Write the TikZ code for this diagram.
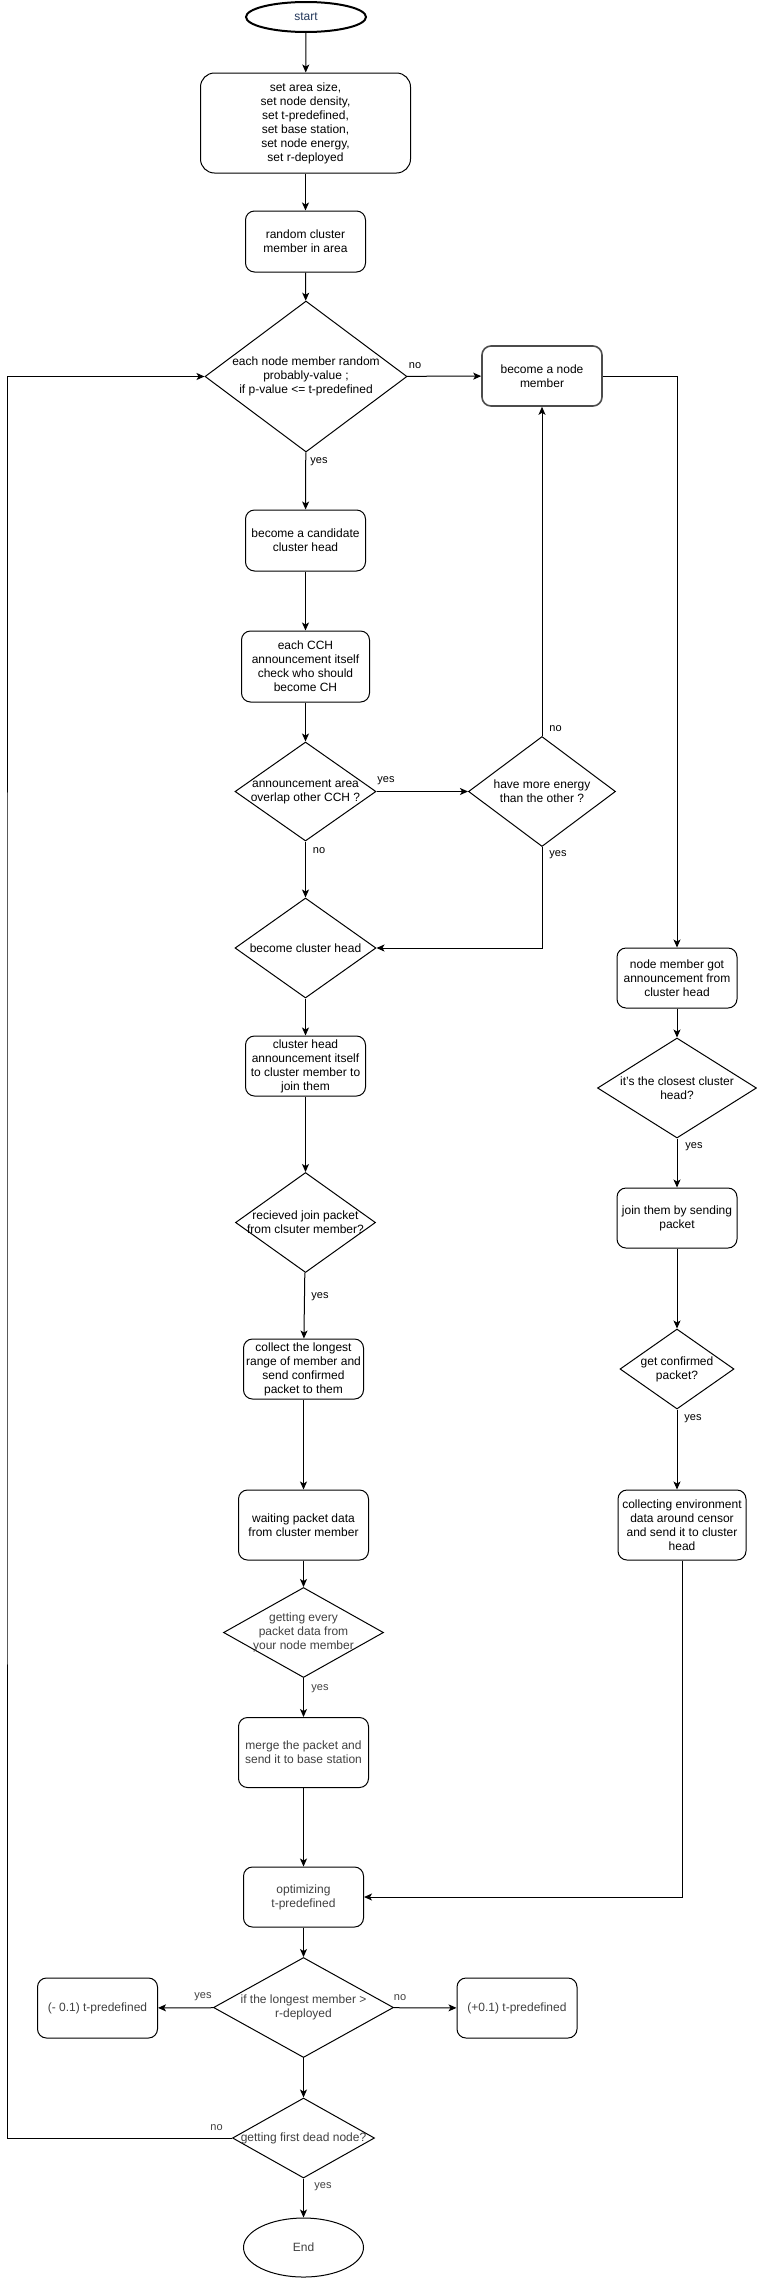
\documentclass[tikz,border=0pt]{standalone}
\usepackage{fontspec}
\setmainfont{Liberation Sans}
\usepackage{xcolor}
\usetikzlibrary{arrows.meta,arrows}
\usetikzlibrary{positioning,shapes,shapes.geometric,calc}

\definecolor{startblue}{RGB}{35,55,90}

\begin{document}
\begin{tikzpicture}[
            x = 1pt, y = -1pt, % pixel grid of the chart
            > = {Stealth[length=8pt,width=7pt,inset=2pt]}, % arrow head style
            line width = 1pt, % line style
            font = \fontsize{12}{14}\selectfont
        ]

        \tikzstyle{every node}=[align = center]
        \tikzstyle{proc}=[
            draw = black,
            rectangle,
            rounded corners = 9pt,
            inner sep = 1pt,
            minimum width = 120pt,
            minimum height = 60pt
        ]
        \tikzstyle{decide}=[
            draw = black,
            diamond,
            inner sep = -30pt
        ]
        \tikzstyle{terminal}=[
            draw = black,
            ellipse,
            inner sep = 0pt,
            minimum width = 120pt
        ]
        \tikzstyle{lbl}=[inner sep = 0pt, font = \fontsize{11}{13}\selectfont]
        \tikzstyle{soft}=[text = black!75]

        \useasboundingbox (0,0) rectangle (757,2278);

        % Main column
        \node[terminal, line width = 2pt, minimum height = 30pt, text = startblue] (start) [at={(306,17)}] {start};
        \node[proc, minimum width = 210pt, minimum height = 100pt, rounded corners = 14pt] (setup) [at={(305.5,123)}] {set area size,\\ set node density,\\ set t-predefined,\\ set base station,\\ set node energy,\\ set r-deployed};
        \node[proc, minimum height = 61pt] (rand) [at={(305.5,241.5)}] {random cluster\\member in area};
        \node[decide, minimum width = 202pt, minimum height = 151pt] (prob) [at={(306,376.5)}] {each node member random\\probably-value ;\\if p-value <= t-predefined};
        \node[proc, minimum height = 61pt] (cand) [at={(305.5,540.5)}] {become a candidate\\cluster head};
        \node[proc, minimum width = 128pt, minimum height = 71pt] (cch) [at={(305.5,666.5)}] {each CCH\\announcement itself\\check who should\\become CH};
        \node[decide, minimum width = 141pt, minimum height = 99pt] (overlap) [at={(305.5,791.5)}] {announcement area\\overlap other CCH ?};
        \node[decide, minimum width = 141pt, minimum height = 100pt] (bch) [at={(305.5,948)}] {become cluster head};
        \node[proc] (chann) [at={(305.5,1066)}] {cluster head\\announcement itself\\to cluster member to\\join them};
        \node[decide, minimum width = 140pt, minimum height = 100pt] (rcv) [at={(305.5,1222.5)}] {recieved join packet\\from clsuter member?};
        \node[proc] (collect) [at={(303.5,1369)}] {collect the longest\\range of member and\\send confirmed\\packet to them};
        \node[proc, minimum width = 130pt, minimum height = 70pt] (waiting) [at={(303.5,1525)}] {waiting packet data\\from cluster member};
        \node[decide, soft, minimum width = 160pt, minimum height = 90pt] (getting) [at={(303.5,1632.5)}] {getting every\\packet data from\\your node member};
        \node[proc, soft, minimum width = 130pt, minimum height = 70pt] (merge) [at={(303.5,1752.5)}] {merge the packet and\\send it to base station};
        \node[proc, soft] (opt) [at={(303.5,1897)}] {optimizing\\t-predefined};
        \node[decide, soft, minimum width = 180pt, minimum height = 100pt] (longest) [at={(303.5,2007.5)}] {if the longest member >\\r-deployed};
        \node[proc, soft] (minus) [at={(97.5,2008)}] {(- 0.1) t-predefined};
        \node[proc, soft] (plus) [at={(517,2008)}] {(+0.1) t-predefined};
        \node[decide, soft, minimum width = 142pt, minimum height = 80pt] (dead) [at={(303.5,2138)}] {getting first dead node?};
        \node[terminal, soft, minimum height = 59pt] (finish) [at={(303.5,2247.5)}] {End};

        % Member column
        \node[proc, draw = black!70, line width = 1.6pt] (member) [at={(542,376)}] {become a node\\member};
        \node[decide, minimum width = 147pt, minimum height = 110pt] (energy) [at={(542,791.5)}] {have more energy\\than the other ?};
        \node[proc] (ngot) [at={(677,978)}] {node member got\\announcement from\\cluster head};
        \node[decide, minimum width = 159pt, minimum height = 100pt] (closest) [at={(677,1088)}] {it's the closest cluster\\head?};
        \node[proc] (join) [at={(677,1218)}] {join them by sending\\packet};
        \node[decide, minimum width = 114pt, minimum height = 80pt] (confirmed) [at={(677,1369)}] {get confirmed\\packet?};
        \node[proc, minimum width = 128pt, minimum height = 70pt] (env) [at={(682,1525)}] {collecting environment\\data around censor\\and send it to cluster\\head};

        \coordinate (loop) at (7,1200);

        % Labels
        \node[lbl] (lno1) [at={(415,366)}] {no};
        \node[lbl] (lyes1) [at={(319,462)}] {yes};
        \node[lbl] (lyes2) [at={(386,781)}] {yes};
        \node[lbl] (lno2) [at={(319,851)}] {no};
        \node[lbl] (lno3) [at={(555.5,729)}] {no};
        \node[lbl] (lyes3) [at={(558,855)}] {yes};
        \node[lbl] (lyes4) [at={(694,1147)}] {yes};
        \node[lbl] (lyes5) [at={(320,1297)}] {yes};
        \node[lbl] (lyes6) [at={(693,1419)}] {yes};
        \node[lbl, soft] (lyes7) [at={(320,1689)}] {yes};
        \node[lbl, soft] (lyes8) [at={(203,1997)}] {yes};
        \node[lbl, soft] (lno4) [at={(400,1998)}] {no};
        \node[lbl, soft] (lno5) [at={(216.5,2128)}] {no};
        \node[lbl, soft] (lyes9) [at={(323,2186.5)}] {yes};

        \path[->, draw = black] (start) edge node {} (setup);
        \path[->, draw = black] (setup) edge node {} (rand);
        \path[->, draw = black] (rand) edge node {} (prob);
        \path[->, draw = black] (prob) edge node {} (member);
        \path[->, draw = black] (prob) edge node {} (cand);
        \path[->, draw = black] (cand) edge node {} (cch);
        \path[->, draw = black] (cch) edge node {} (overlap);
        \path[->, draw = black] (overlap) edge node {} (energy);
        \path[->, draw = black] (overlap) edge node {} (bch);
        \path[->, draw = black] (energy) edge node {} (member);
        \path[->, draw = black] (bch) edge node {} (chann);
        \path[->, draw = black] (chann) edge node {} (rcv);
        \path[->, draw = black] (rcv) edge node {} (collect);
        \path[->, draw = black] (collect) edge node {} (waiting);
        \path[->, draw = black] (waiting) edge node {} (getting);
        \path[->, draw = black] (getting) edge node {} (merge);
        \path[->, draw = black] (merge) edge node {} (opt);
        \path[->, draw = black] (opt) edge node {} (longest);
        \path[->, draw = black] (longest) edge node {} (minus);
        \path[->, draw = black] (longest) edge node {} (plus);
        \path[->, draw = black] (longest) edge node {} (dead);
        \path[->, draw = black] (dead) edge node {} (finish);
        \path[->, draw = black] (ngot) edge node {} (closest);
        \path[->, draw = black] (closest) edge node {} (join);
        \path[->, draw = black] (join) edge node {} (confirmed);
        % Elbows
        \draw[->] (energy.south) |- (bch.east);
        \draw[->] (member.east) -| (ngot.north);
        \draw[->] (confirmed.south) -- (confirmed.south |- env.north);
        \draw[->] (env.south) |- (opt.east);
        \draw[->] (dead.west) -| (loop) |- (prob.west);
      \end{tikzpicture}
\end{document}
